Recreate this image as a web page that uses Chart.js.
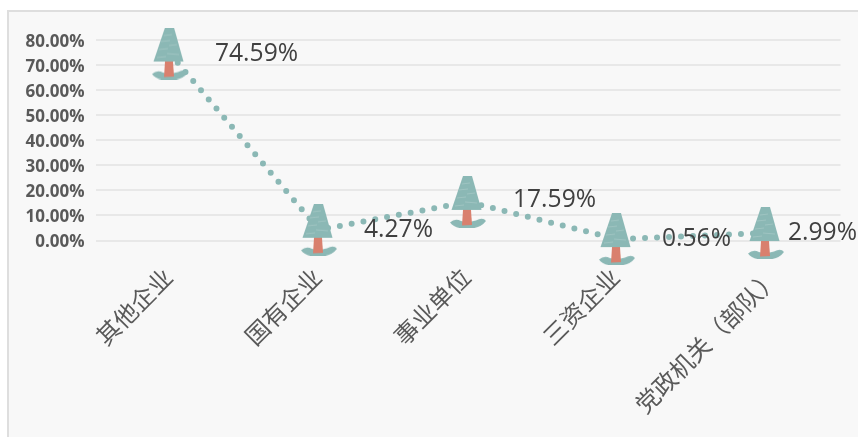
<!DOCTYPE html>
<html><head><meta charset="utf-8">
<script src="https://cdn.jsdelivr.net/npm/chart.js@4"></script>
<style>
html,body{margin:0;padding:0;background:#fff;overflow:hidden}
#panel{position:absolute;left:7px;top:10px;width:851px;height:427px;box-sizing:border-box;background:#f8f8f8;border:2px solid #dedede;border-right:none;border-bottom:none}
#wrap{position:absolute;left:0;top:0;width:858px;height:437px}
</style></head><body>
<div id="panel"></div>
<div id="wrap"><canvas id="c" width="858" height="437"></canvas></div>
<script>
const categories = ['其他企业','国有企业','事业单位','三资企业','党政机关\uFF08部队\uFF09'];
const values = [74.59, 4.27, 15.4, 0.56, 2.99];
const valueLabels = ['74.59%','4.27%','17.59%','0.56%','2.99%'];

function makeTree(){
  const c=document.createElement('canvas');c.width=36;c.height=52;
  const g=c.getContext('2d');
  const teal='#8bb8b5';
  g.fillStyle=teal;
  g.beginPath();g.moveTo(13,0);g.lineTo(22,0);g.lineTo(31.5,34);g.lineTo(1.5,34);g.closePath();g.fill();
  g.strokeStyle='rgba(255,255,255,.3)';g.lineWidth=.6;
  [[12,8,20,7],[9,14,18,13],[17,18,25,17],[7,22,16,21],[15,26,27,27],[5,30,14,29]].forEach(s=>{g.beginPath();g.moveTo(s[0],s[1]);g.lineTo(s[2],s[3]);g.stroke();});
  g.fillStyle=teal;
  g.beginPath();g.moveTo(0,46.5);
  g.quadraticCurveTo(5,42,11,45);g.quadraticCurveTo(18,47,26,44.5);g.quadraticCurveTo(33,41,36,45);
  g.quadraticCurveTo(30,53,17,52.5);g.quadraticCurveTo(5,53,0,46.5);g.closePath();g.fill();
  g.fillStyle='#d9806e';
  g.beginPath();g.moveTo(13,34);g.lineTo(21,34);g.lineTo(22,49);g.lineTo(12,49.5);g.closePath();g.fill();
  return c;
}
const tree=makeTree();

const labelPlugin={id:'valueLabels',afterDatasetsDraw(chart){
  const dx=[45,45,45,45,22], dy=[0,0,-2,0,0];
  const g=chart.ctx,m=chart.getDatasetMeta(0);
  g.save();g.font='24.6px "Open Sans"';g.fillStyle='#404040';g.textAlign='left';g.textBaseline='middle';
  m.data.forEach((p,i)=>g.fillText(valueLabels[i],p.x+dx[i],p.y+dy[i]));
  g.restore();
}};

function nudgeLabels(s,fx,fy){
  const base=s._computeLabelItems;
  s._computeLabelItems=function(a){
    const items=base.call(this,a);
    items.forEach((it,i)=>{
      const t=it.options.translation;
      it.options.translation=[t[0]+fx(i,items.length),t[1]+fy];
    });
    return items;
  };
}

new Chart(document.getElementById('c'),{
  type:'line',
  data:{labels:categories,datasets:[{data:values,clip:false,
    borderColor:'#8bb8b5',borderWidth:6,borderDash:[0,12],borderCapStyle:'round',tension:0,fill:false,
    pointStyle:tree,pointRadius:1,pointHoverRadius:1}]},
  options:{
    responsive:false,animation:false,
    layout:{padding:{top:40,right:17.5,left:0,bottom:0}},
    plugins:{legend:{display:false},tooltip:{enabled:false},title:{display:false}},
    scales:{
      x:{offset:true,
        grid:{display:false},border:{display:false},
        afterFit(s){
          s.height=196.5;
          nudgeLabels(s,(i,n)=>i===n-1?9:-2,0);
        },
        ticks:{autoSkip:false,minRotation:45,maxRotation:45,padding:14,color:'#595959',
          font:{size:24,family:'"Noto Sans CJK SC"'}}},
      y:{min:0,max:80,
        grid:{color:'#e8e8e8',lineWidth:2,drawTicks:false},border:{display:false},
        afterFit(s){s.width=95.5;nudgeLabels(s,()=>0,1);},
        ticks:{stepSize:10,padding:11,color:'#595959',font:{size:17,weight:'bold',family:'"Open Sans"'},
          callback:v=>v.toFixed(2)+'%'}}
    }
  },
  plugins:[labelPlugin]
});
</script>
</body></html>
